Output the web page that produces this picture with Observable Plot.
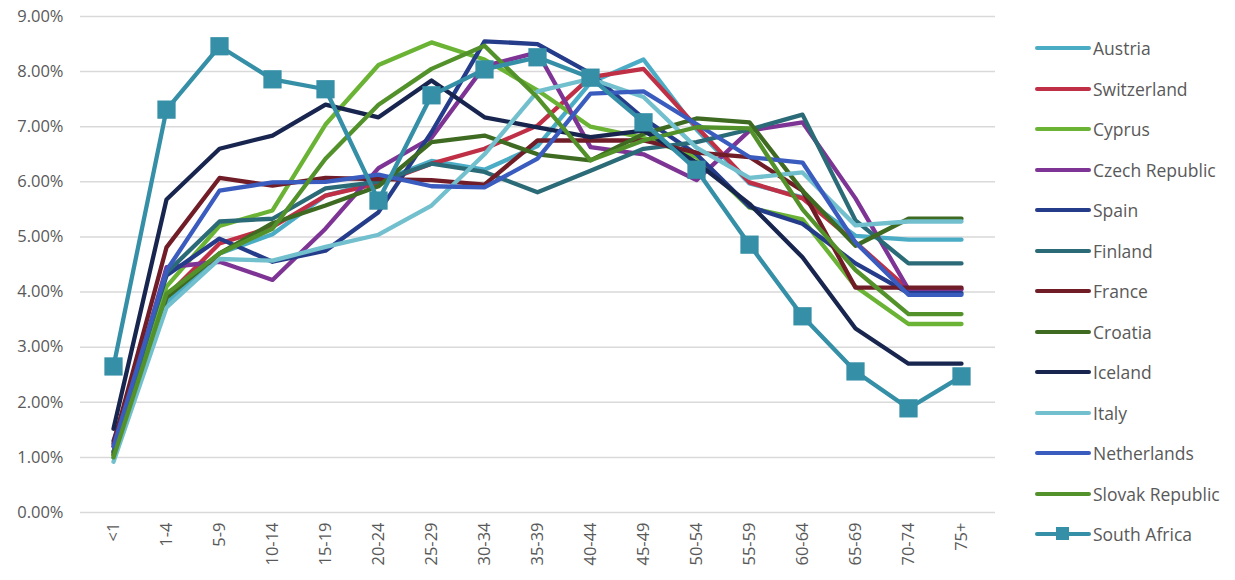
<!DOCTYPE html>
<html><head><meta charset="utf-8">
<script src="https://cdn.jsdelivr.net/npm/d3@7"></script>
<script src="https://cdn.jsdelivr.net/npm/@observablehq/plot@0.6"></script>
<style>
body{margin:0;background:#fff;overflow:hidden;}
#wrap{position:relative;width:1235px;height:580px;font-family:"Open Sans",sans-serif;}
#chart svg{display:block;}
#legend{position:absolute;left:1035px;top:28px;}
.item{height:40.5px;display:flex;align-items:center;font-size:17.5px;color:#595959;white-space:nowrap;}
.sw{width:56px;height:4px;border-radius:2px;margin-right:2px;position:relative;}
.sq{position:absolute;left:21px;top:-5px;width:13px;height:13px;}
</style></head><body><div id="wrap"><div id="chart"></div><div id="legend"></div></div>
<script>
const ages = ["<1","1-4","5-9","10-14","15-19","20-24","25-29","30-34","35-39","40-44","45-49","50-54","55-59","60-64","65-69","70-74","75+"];
const yTicks = [0,1,2,3,4,5,6,7,8,9];

const austria     = [1.00, 3.80, 4.70, 5.05, 5.75, 6.00, 6.38, 6.22, 6.65, 7.80, 8.22, 6.95, 5.97, 5.72, 5.02, 4.95, 4.95];
const switzerland = [1.20, 3.92, 4.88, 5.18, 5.75, 5.97, 6.33, 6.60, 7.02, 7.90, 8.05, 7.00, 5.99, 5.70, 4.90, 4.05, 4.05];
const cyprus      = [1.05, 4.10, 5.20, 5.48, 7.04, 8.12, 8.53, 8.22, 7.66, 7.00, 6.80, 6.45, 5.53, 5.32, 4.10, 3.42, 3.42];
const czech       = [1.10, 4.45, 4.55, 4.22, 5.15, 6.25, 6.80, 8.10, 8.35, 6.63, 6.50, 6.03, 6.93, 7.08, 5.70, 4.05, 4.05];
const spain       = [1.30, 4.30, 4.97, 4.55, 4.75, 5.45, 6.90, 8.55, 8.50, 7.97, 7.15, 6.50, 5.55, 5.24, 4.52, 3.98, 3.98];
const finland     = [1.10, 4.35, 5.28, 5.33, 5.88, 6.00, 6.33, 6.18, 5.81, 6.20, 6.60, 6.72, 6.95, 7.22, 5.30, 4.52, 4.52];
const france      = [1.25, 4.81, 6.07, 5.93, 6.07, 6.05, 6.03, 5.95, 6.75, 6.75, 6.75, 6.53, 6.45, 5.84, 4.08, 4.08, 4.08];
const croatia     = [1.05, 3.90, 4.70, 5.25, 5.57, 5.92, 6.72, 6.84, 6.50, 6.39, 6.87, 7.15, 7.08, 5.84, 4.84, 5.33, 5.33];
const iceland     = [1.52, 5.68, 6.60, 6.84, 7.40, 7.17, 7.84, 7.17, 6.99, 6.81, 6.93, 6.35, 5.60, 4.63, 3.34, 2.70, 2.70];
const italy       = [0.92, 3.72, 4.60, 4.57, 4.82, 5.04, 5.57, 6.50, 7.64, 7.87, 7.54, 6.62, 6.07, 6.17, 5.21, 5.28, 5.28];
const netherlands = [1.20, 4.39, 5.84, 5.99, 6.00, 6.13, 5.92, 5.90, 6.42, 7.60, 7.64, 7.05, 6.45, 6.35, 4.90, 3.95, 3.95];
const slovak      = [1.00, 3.97, 4.70, 5.15, 6.42, 7.40, 8.05, 8.47, 7.53, 6.39, 6.75, 6.99, 6.97, 5.50, 4.40, 3.60, 3.60];
const southAfrica = [2.65, 7.31, 8.46, 7.86, 7.68, 5.66, 7.57, 8.04, 8.26, 7.89, 7.08, 6.22, 4.86, 3.56, 2.56, 1.89, 2.47];

const series = [
  {name:"Austria", values:austria, color:"#4BACC6"},
  {name:"Switzerland", values:switzerland, color:"#BF2F45"},
  {name:"Cyprus", values:cyprus, color:"#6BB334"},
  {name:"Czech Republic", values:czech, color:"#7E3494"},
  {name:"Spain", values:spain, color:"#243C89"},
  {name:"Finland", values:finland, color:"#2B6A77"},
  {name:"France", values:france, color:"#711D28"},
  {name:"Croatia", values:croatia, color:"#3E6A21"},
  {name:"Iceland", values:iceland, color:"#17254F"},
  {name:"Italy", values:italy, color:"#72BFCE"},
  {name:"Netherlands", values:netherlands, color:"#3A5CBF"},
  {name:"Slovak Republic", values:slovak, color:"#53922B"},
  {name:"South Africa", values:southAfrica, color:"#358FA7", marker:true}
];

const font = "'Open Sans', sans-serif";
const marks = [Plot.ruleY(yTicks, {stroke:"#d9d9d9", strokeWidth:1.5})];
for (const s of series) {
  const data = ages.map((a,i)=>({age:a, v:s.values[i]}));
  marks.push(Plot.lineY(data, {x:"age", y:"v", stroke:s.color, strokeWidth:4.3, strokeLinejoin:"round", strokeLinecap:"round"}));
  if (s.marker) marks.push(Plot.dot(data, {x:"age", y:"v", symbol:"square", r:10.3, fill:s.color, stroke:"none"}));
}

const chart = Plot.plot({
  width:1010, height:580,
  marginLeft:80, marginRight:15, marginTop:16, marginBottom:68,
  style:{fontFamily:font, fontSize:"16.5px", color:"#595959", background:"#fff"},
  x:{type:"point", domain:ages, padding:0, range:[107, 967], label:null, tickRotate:-90, tickSize:0, tickPadding:10},
  y:{domain:[0,9], ticks:yTicks, tickFormat:d=>d.toFixed(2)+"%", label:null, tickSize:0, tickPadding:17},
  marks
});
document.getElementById("chart").appendChild(chart);

const leg = document.getElementById("legend");
for (const s of series) {
  const it = document.createElement("div"); it.className="item";
  const sw = document.createElement("div"); sw.className="sw"; sw.style.background=s.color;
  if (s.marker) { const q=document.createElement("div"); q.className="sq"; q.style.background=s.color; sw.appendChild(q); }
  const t = document.createElement("span"); t.textContent=s.name;
  it.appendChild(sw); it.appendChild(t); leg.appendChild(it);
}
</script></body></html>
